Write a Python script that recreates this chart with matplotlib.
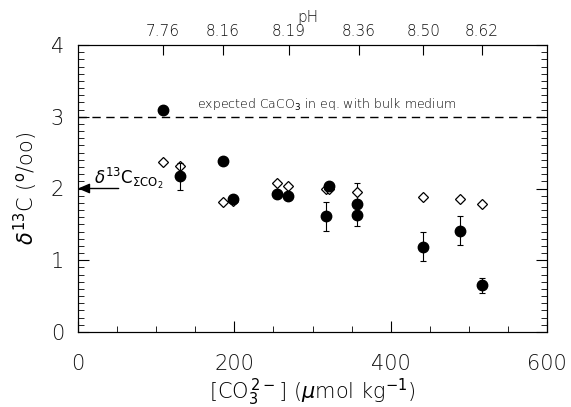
import numpy as np
import matplotlib
matplotlib.use("Agg")
import matplotlib.pyplot as plt
from matplotlib.ticker import MultipleLocator

# Filled circles (measured CaCO3 d13C)
filled_x = [109, 131, 185, 198, 255, 269, 321, 317, 357, 357, 442, 489, 517]
filled_y = [3.10, 2.17, 2.39, 1.85, 1.92, 1.89, 2.04, 1.61, 1.78, 1.63, 1.19, 1.41, 0.65]
filled_err = [0, 0.19, 0, 0, 0, 0, 0, 0.20, 0, 0.15, 0.20, 0.20, 0.10]

# Open diamonds
open_x = [109, 131, 185, 198, 255, 269, 317, 321, 357, 442, 489, 517]
open_y = [2.37, 2.32, 1.81, 1.82, 2.07, 2.04, 1.99, 1.99, 1.95, 1.88, 1.86, 1.79]
open_err = [0, 0, 0, 0, 0, 0, 0, 0, 0.13, 0, 0, 0]

# Top axis (pH)
ph_pos = [109, 185, 270, 359, 442, 517]
ph_labels = ["7.76", "8.16", "8.19", "8.36", "8.50", "8.62"]

expected_level = 3.0
dic_level = 2.0

plt.rcParams['font.family'] = ['DejaVu Sans']
plt.rcParams['mathtext.fontset'] = 'dejavusans'

fig = plt.figure(figsize=(5.71, 4.07), dpi=100)
ax = fig.add_axes([78/571, 75/407, 469/571, 287/407])

ax.set_xlim(0, 600)
ax.set_ylim(0, 4)

ax.axhline(expected_level, color='black', lw=1.0, ls=(0, (6, 4)), zorder=1)
ax.text(152, 3.17, r"expected CaCO$_3$ in eq. with bulk medium", fontsize=9,
        va='center', ha='left', color='black', fontweight='light')

def with_err(xs, ys, es):
    sel = [(x, y, e) for x, y, e in zip(xs, ys, es) if e > 0]
    return [s[0] for s in sel], [s[1] for s in sel], [s[2] for s in sel]

ex, ey, ee = with_err(open_x, open_y, open_err)
ax.errorbar(ex, ey, yerr=ee, fmt='none', ecolor='black', elinewidth=0.8,
            capsize=2.5, capthick=0.8, zorder=2)
ax.plot(open_x, open_y, linestyle='none', marker='D', markersize=5.5,
        markerfacecolor='white', markeredgecolor='black', markeredgewidth=0.9, zorder=3)

ex, ey, ee = with_err(filled_x, filled_y, filled_err)
ax.errorbar(ex, ey, yerr=ee, fmt='none', ecolor='black', elinewidth=0.8,
            capsize=2.5, capthick=0.8, zorder=4)
ax.plot(filled_x, filled_y, linestyle='none', marker='o', markersize=7.5,
        markerfacecolor='black', markeredgecolor='black', zorder=5)

ax.annotate('', xy=(0, dic_level), xytext=(52, dic_level),
            arrowprops=dict(arrowstyle='-|>,head_length=0.7,head_width=0.3',
                            color='black', lw=1.0, shrinkA=0, shrinkB=0))
ax.text(20, 2.14, r"$\delta^{13}\mathrm{C}_{\Sigma\mathrm{CO}_2}$", fontsize=12,
        ha='left', va='center')

ax.xaxis.set_major_locator(MultipleLocator(200))
ax.xaxis.set_minor_locator(MultipleLocator(50))
ax.yaxis.set_major_locator(MultipleLocator(1))
ax.yaxis.set_minor_locator(MultipleLocator(0.1))
ax.tick_params(axis='both', which='major', direction='in', length=8, width=0.8,
               labelsize=15, top=False, right=True)
ax.tick_params(axis='both', which='minor', direction='in', length=4, width=0.6,
               top=False, right=True)
ax.tick_params(axis='x', which='major', pad=16)
ax.tick_params(axis='y', which='major', pad=10)
for lab in ax.get_xticklabels() + ax.get_yticklabels():
    lab.set_color('#111111')
    lab.set_fontweight('light')

ax.set_xlabel(r"[CO$_3^{\,2-}$] ($\mu$mol kg$^{-1}$)", fontsize=15, labelpad=2,
              color='black', fontweight='light')
ax.set_ylabel(r"$\delta^{13}$C ($^{\mathrm{o}}$/oo)", fontsize=15, labelpad=8,
              color='black', fontweight='light')

for s in ax.spines.values():
    s.set_linewidth(0.8)

top = ax.twiny()
top.set_xlim(ax.get_xlim())
top.set_xticks(ph_pos)
top.set_xticklabels(ph_labels, fontweight='light')
top.tick_params(axis='x', direction='in', length=7, width=0.8, labelsize=11, pad=4,
                labelcolor='#111111')
top.text(0.49, 1.095, "pH", transform=ax.transAxes, fontsize=11, ha='center',
         va='center', color='#111111', fontweight='light')

fig.savefig("out.png", dpi=100)
